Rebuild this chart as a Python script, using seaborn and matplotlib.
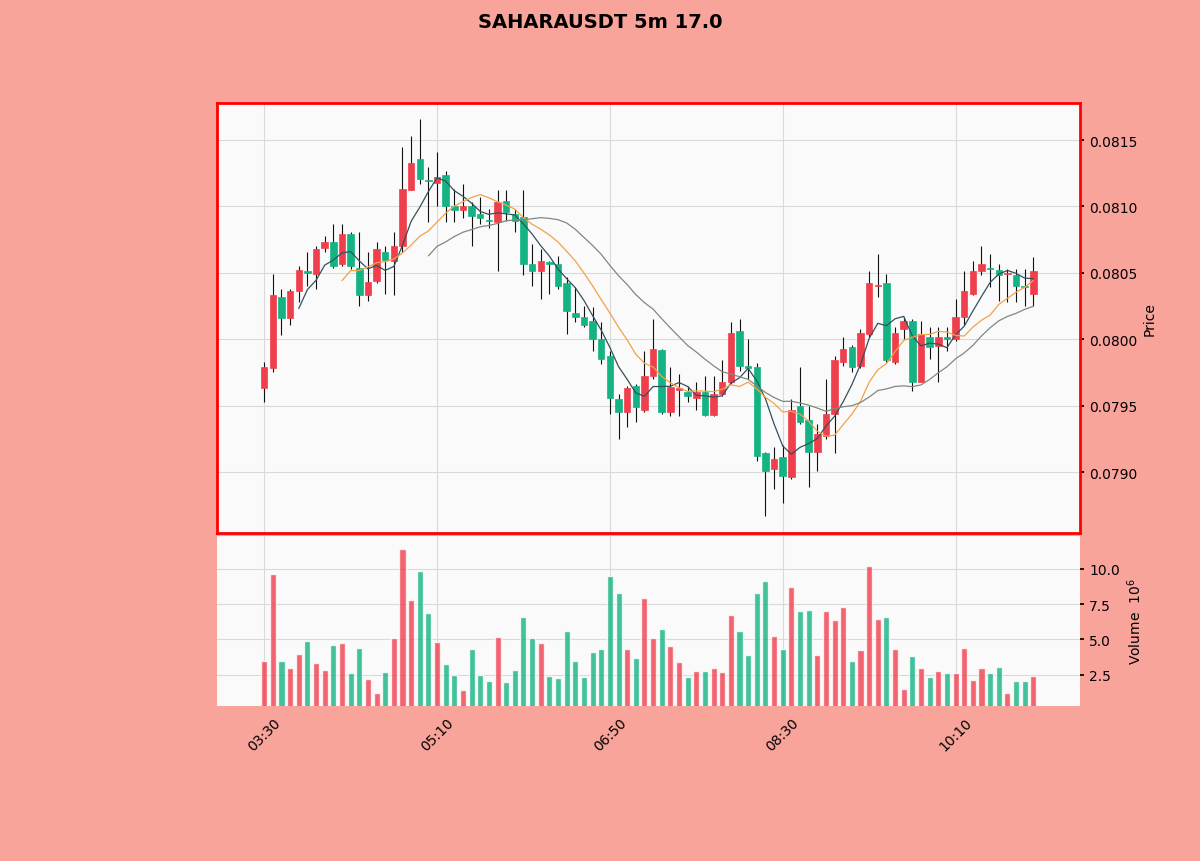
import numpy as np
import pandas as pd
import matplotlib
matplotlib.use('Agg')
import matplotlib.pyplot as plt
import seaborn as sns

# 5m candles, 03:30 -> 10:55
times = pd.date_range('2025-01-01 03:30', periods=90, freq='5min').strftime('%H:%M').tolist()

opens = [0.07963, 0.07978, 0.08032, 0.08016, 0.08036, 0.08051, 0.08049, 0.08069, 0.08073, 0.08057,
         0.08079, 0.08054, 0.08033, 0.08044, 0.08066, 0.08059, 0.08070, 0.08112, 0.08136, 0.08120,
         0.08118, 0.08124, 0.08100, 0.08097, 0.08100, 0.08094, 0.08090, 0.08088, 0.08104, 0.08094,
         0.08092, 0.08057, 0.08051, 0.08058, 0.08057, 0.08042, 0.08020, 0.08017, 0.08014, 0.08000,
         0.07987, 0.07955, 0.07945, 0.07965, 0.07947, 0.07972, 0.07992, 0.07945, 0.07962, 0.07960,
         0.07956, 0.07960, 0.07943, 0.07959, 0.07968, 0.08006, 0.07980, 0.07979, 0.07914, 0.07902,
         0.07911, 0.07896, 0.07950, 0.07939, 0.07915, 0.07927, 0.07944, 0.07983, 0.07994, 0.07980,
         0.08004, 0.08040, 0.08042, 0.07983, 0.08008, 0.08014, 0.07968, 0.08002, 0.07995, 0.08002,
         0.08000, 0.08017, 0.08034, 0.08051, 0.08054, 0.08052, 0.08049, 0.08048, 0.08040, 0.08034]
highs = [0.07983, 0.08049, 0.08038, 0.08038, 0.08055, 0.08066, 0.08070, 0.08078, 0.08087, 0.08087,
         0.08081, 0.08081, 0.08066, 0.08073, 0.08070, 0.08081, 0.08145, 0.08153, 0.08166, 0.08130,
         0.08141, 0.08127, 0.08113, 0.08117, 0.08103, 0.08107, 0.08098, 0.08112, 0.08112, 0.08098,
         0.08112, 0.08072, 0.08068, 0.08059, 0.08063, 0.08047, 0.08039, 0.08025, 0.08024, 0.08013,
         0.07991, 0.07959, 0.07965, 0.07966, 0.07991, 0.08015, 0.07993, 0.07979, 0.07974, 0.07965,
         0.07968, 0.07972, 0.07972, 0.07984, 0.08013, 0.08015, 0.08000, 0.07982, 0.07915, 0.07919,
         0.07920, 0.07955, 0.07979, 0.07950, 0.07936, 0.07970, 0.07987, 0.08002, 0.07996, 0.08008,
         0.08051, 0.08064, 0.08049, 0.08009, 0.08017, 0.08015, 0.08014, 0.08009, 0.08009, 0.08009,
         0.08030, 0.08051, 0.08059, 0.08070, 0.08064, 0.08057, 0.08053, 0.08053, 0.08053, 0.08062]
lows = [0.07953, 0.07975, 0.08003, 0.08011, 0.08028, 0.08040, 0.08038, 0.08066, 0.08054, 0.08055,
        0.08053, 0.08025, 0.08029, 0.08042, 0.08034, 0.08033, 0.08066, 0.08112, 0.08117, 0.08088,
        0.08100, 0.08088, 0.08088, 0.08091, 0.08070, 0.08087, 0.08084, 0.08051, 0.08089, 0.08081,
        0.08048, 0.08040, 0.08030, 0.08034, 0.08038, 0.08004, 0.08013, 0.08009, 0.07991, 0.07981,
        0.07944, 0.07925, 0.07934, 0.07938, 0.07945, 0.07970, 0.07944, 0.07942, 0.07942, 0.07953,
        0.07947, 0.07942, 0.07942, 0.07957, 0.07966, 0.07976, 0.07970, 0.07908, 0.07867, 0.07887,
        0.07877, 0.07895, 0.07936, 0.07889, 0.07901, 0.07925, 0.07914, 0.07980, 0.07975, 0.07978,
        0.08002, 0.08032, 0.07983, 0.07981, 0.08000, 0.07961, 0.07968, 0.07985, 0.07968, 0.07991,
        0.07999, 0.08011, 0.08033, 0.08048, 0.08039, 0.08029, 0.08028, 0.08028, 0.08025, 0.08025]
closes = [0.07979, 0.08033, 0.08016, 0.08036, 0.08052, 0.08050, 0.08068, 0.08073, 0.08055, 0.08079,
          0.08055, 0.08033, 0.08043, 0.08068, 0.08060, 0.08070, 0.08113, 0.08133, 0.08121, 0.08119,
          0.08122, 0.08100, 0.08097, 0.08100, 0.08093, 0.08091, 0.08089, 0.08103, 0.08096, 0.08089,
          0.08057, 0.08051, 0.08059, 0.08057, 0.08040, 0.08021, 0.08017, 0.08011, 0.08000, 0.07985,
          0.07956, 0.07945, 0.07963, 0.07949, 0.07972, 0.07993, 0.07945, 0.07964, 0.07963, 0.07957,
          0.07960, 0.07943, 0.07959, 0.07968, 0.08005, 0.07980, 0.07978, 0.07912, 0.07901, 0.07910,
          0.07897, 0.07947, 0.07938, 0.07915, 0.07929, 0.07944, 0.07984, 0.07993, 0.07979, 0.08005,
          0.08042, 0.08041, 0.07984, 0.08005, 0.08014, 0.07968, 0.08004, 0.07994, 0.08002, 0.08000,
          0.08017, 0.08036, 0.08051, 0.08057, 0.08053, 0.08048, 0.08050, 0.08040, 0.08039, 0.08051]
# volume in millions
volumes = [3.5, 9.65, 3.5, 3.0, 4.0, 4.9, 3.35, 2.85, 4.6, 4.75,
           2.6, 4.4, 2.2, 1.2, 2.7, 5.1, 11.4, 7.75, 9.8, 6.9,
           4.85, 3.3, 2.5, 1.45, 4.3, 2.5, 2.1, 5.2, 2.0, 2.85,
           6.55, 5.1, 4.75, 2.45, 2.3, 5.6, 3.5, 2.35, 4.1, 4.35,
           9.45, 8.25, 4.35, 3.7, 7.9, 5.1, 5.75, 4.55, 3.4, 2.35,
           2.8, 2.75, 3.0, 2.7, 6.7, 5.6, 3.9, 8.25, 9.15, 5.25,
           4.35, 8.7, 7.0, 7.1, 3.9, 7.0, 6.35, 7.3, 3.5, 4.25,
           10.15, 6.45, 6.55, 4.35, 1.5, 3.85, 2.95, 2.35, 2.75, 2.6,
           2.65, 4.4, 2.15, 3.0, 2.6, 3.05, 1.2, 2.1, 2.1, 2.45]
mav_windows = [5, 10, 20]
mav_colors = ['#34505e', '#f2a24a', '#7f8a7c']
title = 'SAHARAUSDT 5m 17.0'

df = pd.DataFrame({'time': times, 'open': opens, 'high': highs, 'low': lows,
                   'close': closes, 'volume': volumes})
df['idx'] = np.arange(len(df))
df['dir'] = np.where(df['close'] >= df['open'], 'up', 'down')

up_color = '#ef3f4d'
down_color = '#14b383'
bg = '#f9a49b'

sns.set_theme(style='whitegrid')
plt.rcParams['font.family'] = ['DejaVu Sans']
plt.rcParams['text.color'] = 'black'
plt.rcParams['axes.labelcolor'] = 'black'

fig = plt.figure(figsize=(12, 8.62), dpi=100, facecolor=bg)
ax = fig.add_axes([0.181, 0.3805, 0.719, 0.4989])
axv = fig.add_axes([0.181, 0.1798, 0.719, 0.1972], sharex=ax)

for a in (ax, axv):
    a.set_facecolor('#fafafa')
    a.grid(True, color='#d9d9d9', linewidth=0.8)
    a.yaxis.tick_right()
    a.yaxis.set_label_position('right')
    a.tick_params(axis='both', labelsize=10, colors='black', length=3)

# wicks and bodies
colors = np.where(df['dir'] == 'up', up_color, down_color)
ax.vlines(df['idx'], df['low'], df['high'], color='#111111', linewidth=0.8, zorder=2)
body_h = (df['close'] - df['open']).abs().clip(lower=0.000006)
body_b = df[['open', 'close']].min(axis=1)
ax.bar(df['idx'], body_h, bottom=body_b, width=0.75, color=colors,
       edgecolor=colors, linewidth=0.5, zorder=3)

# moving averages
for w, c in zip(mav_windows, mav_colors):
    ma = df['close'].rolling(w).mean()
    sns.lineplot(x=df['idx'], y=ma, ax=ax, color=c, linewidth=0.9, zorder=4)

ax.set_xlim(-5.44, 94.4)
ax.set_ylim(0.078541, 0.081779)
ax.set_yticks([0.0790, 0.0795, 0.0800, 0.0805, 0.0810, 0.0815])
ax.set_yticklabels([f'{v:.4f}' for v in [0.0790, 0.0795, 0.0800, 0.0805, 0.0810, 0.0815]])
ax.set_ylabel('Price', fontsize=10)
ax.set_xlabel('')
ax.tick_params(axis='x', labelbottom=False, length=0)
for s in ax.spines.values():
    s.set_color('red')
    s.set_linewidth(2)
    s.set_visible(True)

# volume
sns.barplot(data=df, x='idx', y='volume', hue='dir', native_scale=True,
            palette={'up': up_color, 'down': down_color}, width=0.7, alpha=0.8,
            saturation=1, dodge=False, legend=False, ax=axv, zorder=3)
axv.set_xlim(-5.44, 94.4)
axv.set_ylim(0.3, 12.3)
axv.set_yticks([2.5, 5.0, 7.5, 10.0])
axv.set_yticklabels(['2.5', '5.0', '7.5', '10.0'])
axv.set_ylabel('Volume  $10^{6}$', fontsize=10)
axv.set_xlabel('')
tick_pos = [0, 20, 40, 60, 80]
axv.set_xticks(tick_pos)
axv.set_xticklabels([times[i] for i in tick_pos], rotation=45)
for s in axv.spines.values():
    s.set_visible(False)

fig.suptitle(title, fontsize=14, fontweight='bold', color='black', y=0.985)
fig.savefig('out.png', dpi=100, facecolor=bg)
